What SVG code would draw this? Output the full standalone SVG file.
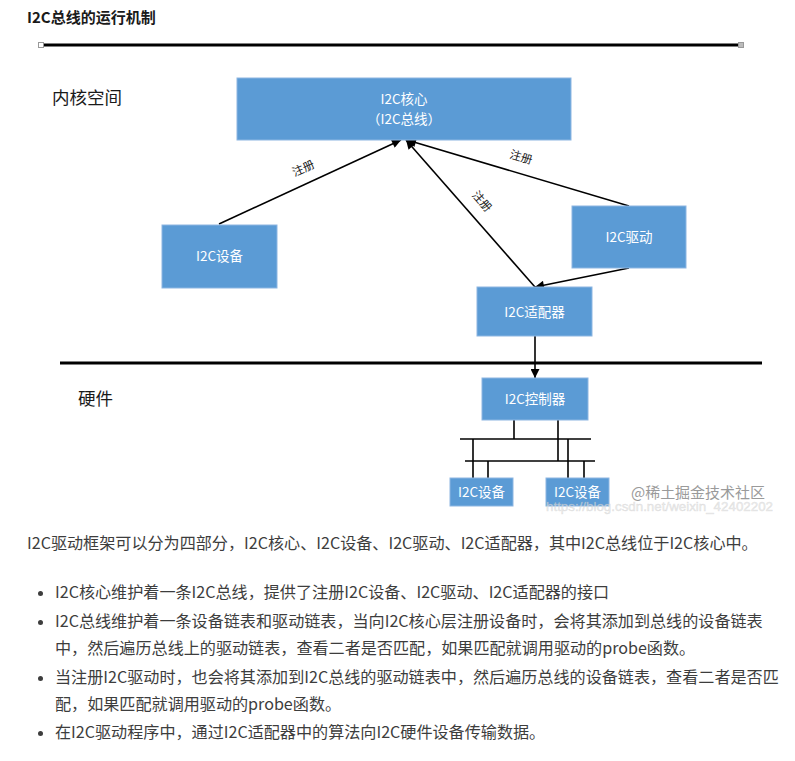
<svg xmlns="http://www.w3.org/2000/svg" width="795" height="761" viewBox="0 0 795 761">
<style>
.box{fill:#5b9bd5;stroke:#8db6e2;stroke-width:1}
.bt{font-family:"Noto Sans CJK SC","Noto Sans",sans-serif;font-size:13.5px;fill:#ffffff;text-anchor:middle}
.lbl{font-family:"Noto Sans CJK SC","Noto Sans",sans-serif;font-size:11.5px;fill:#222;text-anchor:middle}
.zone{font-family:"Noto Sans CJK SC","Noto Sans",sans-serif;font-size:17.5px;fill:#1a1a1a}
.body{font-family:"Noto Sans CJK SC","Noto Sans",sans-serif;font-size:16.1px;fill:#3d3d3d}
.ln{stroke:#000;stroke-width:1.6;fill:none}
.bus{stroke:#000;stroke-width:1.6;fill:none}
</style>
<defs>
<marker id="ah" viewBox="0 0 10 10" refX="10" refY="5" markerWidth="11" markerHeight="9" markerUnits="userSpaceOnUse" orient="auto">
<path d="M0,0 L10,5 L0,10 z" fill="#000"/>
</marker>
</defs>
<rect width="795" height="761" fill="#ffffff"/>
<text x="27" y="22.5" font-family="'Noto Sans CJK SC','Noto Sans',sans-serif" font-size="15" font-weight="bold" fill="#1a1a1a">I2C总线的运行机制</text>
<line x1="41" y1="45" x2="741" y2="45" stroke="#000" stroke-width="3"/>
<rect x="38.5" y="42.5" width="5" height="5" fill="#fff" stroke="#999" stroke-width="1"/>
<rect x="738.5" y="42.5" width="5" height="5" fill="#bbb" stroke="#999" stroke-width="1"/>
<text class="zone" x="52" y="104">内核空间</text>
<line x1="60" y1="363" x2="762" y2="363" stroke="#000" stroke-width="3"/>
<text class="zone" x="78" y="405">硬件</text>
<g id="connectors">
<line class="ln" x1="219" y1="224" x2="401" y2="140" marker-end="url(#ah)"/>
<line class="ln" x1="535" y1="287" x2="406" y2="140" marker-end="url(#ah)"/>
<line class="ln" x1="629" y1="206" x2="407" y2="140" marker-end="url(#ah)"/>
<line class="ln" x1="629" y1="268" x2="535" y2="287" marker-end="url(#ah)"/>
<line class="ln" x1="535" y1="336" x2="535" y2="378" marker-end="url(#ah)"/>
<text class="lbl" transform="translate(305,172) rotate(-24.5)">注册</text>
<text class="lbl" transform="translate(520,161) rotate(16.5)">注册</text>
<text class="lbl" transform="translate(479,204) rotate(49)">注册</text>
<line class="bus" x1="460" y1="439" x2="591" y2="439"/>
<line class="bus" x1="465" y1="461" x2="595" y2="461"/>
<line class="bus" x1="514" y1="420" x2="514" y2="439"/>
<line class="bus" x1="558" y1="420" x2="558" y2="461"/>
<line class="bus" x1="473" y1="439" x2="473" y2="478"/>
<line class="bus" x1="488" y1="461" x2="488" y2="478"/>
<line class="bus" x1="568" y1="439" x2="568" y2="478"/>
<line class="bus" x1="584" y1="461" x2="584" y2="478"/>
</g>
<g id="core">
<rect class="box" x="237" y="78" width="334" height="62"/>
<text class="bt" x="404" y="104">I2C核心</text>
<text class="bt" x="404" y="123.5">（I2C总线）</text>
</g>
<g id="device">
<rect class="box" x="162" y="225" width="115" height="63"/>
<text class="bt" x="219.5" y="261">I2C设备</text>
</g>
<g id="driver">
<rect class="box" x="572" y="206" width="114" height="62"/>
<text class="bt" x="629" y="242">I2C驱动</text>
</g>
<g id="adapter">
<rect class="box" x="477" y="287" width="115" height="49"/>
<text class="bt" x="534.5" y="316.5">I2C适配器</text>
</g>
<g id="controller">
<rect class="box" x="482" y="378" width="106" height="42"/>
<text class="bt" x="535" y="404">I2C控制器</text>
</g>
<g id="dev1">
<rect class="box" x="450" y="478" width="63" height="28"/>
<text class="bt" x="481.5" y="497">I2C设备</text>
</g>
<g id="dev2">
<rect class="box" x="546" y="478" width="63" height="28"/>
<text class="bt" x="577.5" y="497">I2C设备</text>
</g>
<text x="546" y="511" font-family="'Liberation Sans',sans-serif" font-size="12" fill="#e6e6e6" fill-opacity="0.6" stroke="#bdbdbd" stroke-opacity="0.4" stroke-width="0.5" textLength="227" lengthAdjust="spacingAndGlyphs">https://blog.csdn.net/weixin_42402202</text>
<text x="631" y="498" font-family="'Noto Sans CJK SC',sans-serif" font-size="15" fill="#9a9a9a" textLength="134" lengthAdjust="spacingAndGlyphs">@稀土掘金技术社区</text>
<g id="body">
<text class="body" x="27" y="549">I2C驱动框架可以分为四部分，I2C核心、I2C设备、I2C驱动、I2C适配器，其中I2C总线位于I2C核心中。</text>
<circle cx="40.5" cy="593.5" r="2.5" fill="#3d3d3d"/>
<text class="body" x="55" y="598">I2C核心维护着一条I2C总线，提供了注册I2C设备、I2C驱动、I2C适配器的接口</text>
<circle cx="40.5" cy="622.5" r="2.5" fill="#3d3d3d"/>
<text class="body" x="55" y="627">I2C总线维护着一条设备链表和驱动链表，当向I2C核心层注册设备时，会将其添加到总线的设备链表</text>
<text class="body" x="55" y="654">中，然后遍历总线上的驱动链表，查看二者是否匹配，如果匹配就调用驱动的probe函数。</text>
<circle cx="40.5" cy="678.5" r="2.5" fill="#3d3d3d"/>
<text class="body" x="55" y="683">当注册I2C驱动时，也会将其添加到I2C总线的驱动链表中，然后遍历总线的设备链表，查看二者是否匹</text>
<text class="body" x="55" y="710">配，如果匹配就调用驱动的probe函数。</text>
<circle cx="40.5" cy="733.5" r="2.5" fill="#3d3d3d"/>
<text class="body" x="55" y="738">在I2C驱动程序中，通过I2C适配器中的算法向I2C硬件设备传输数据。</text>
</g>
</svg>
